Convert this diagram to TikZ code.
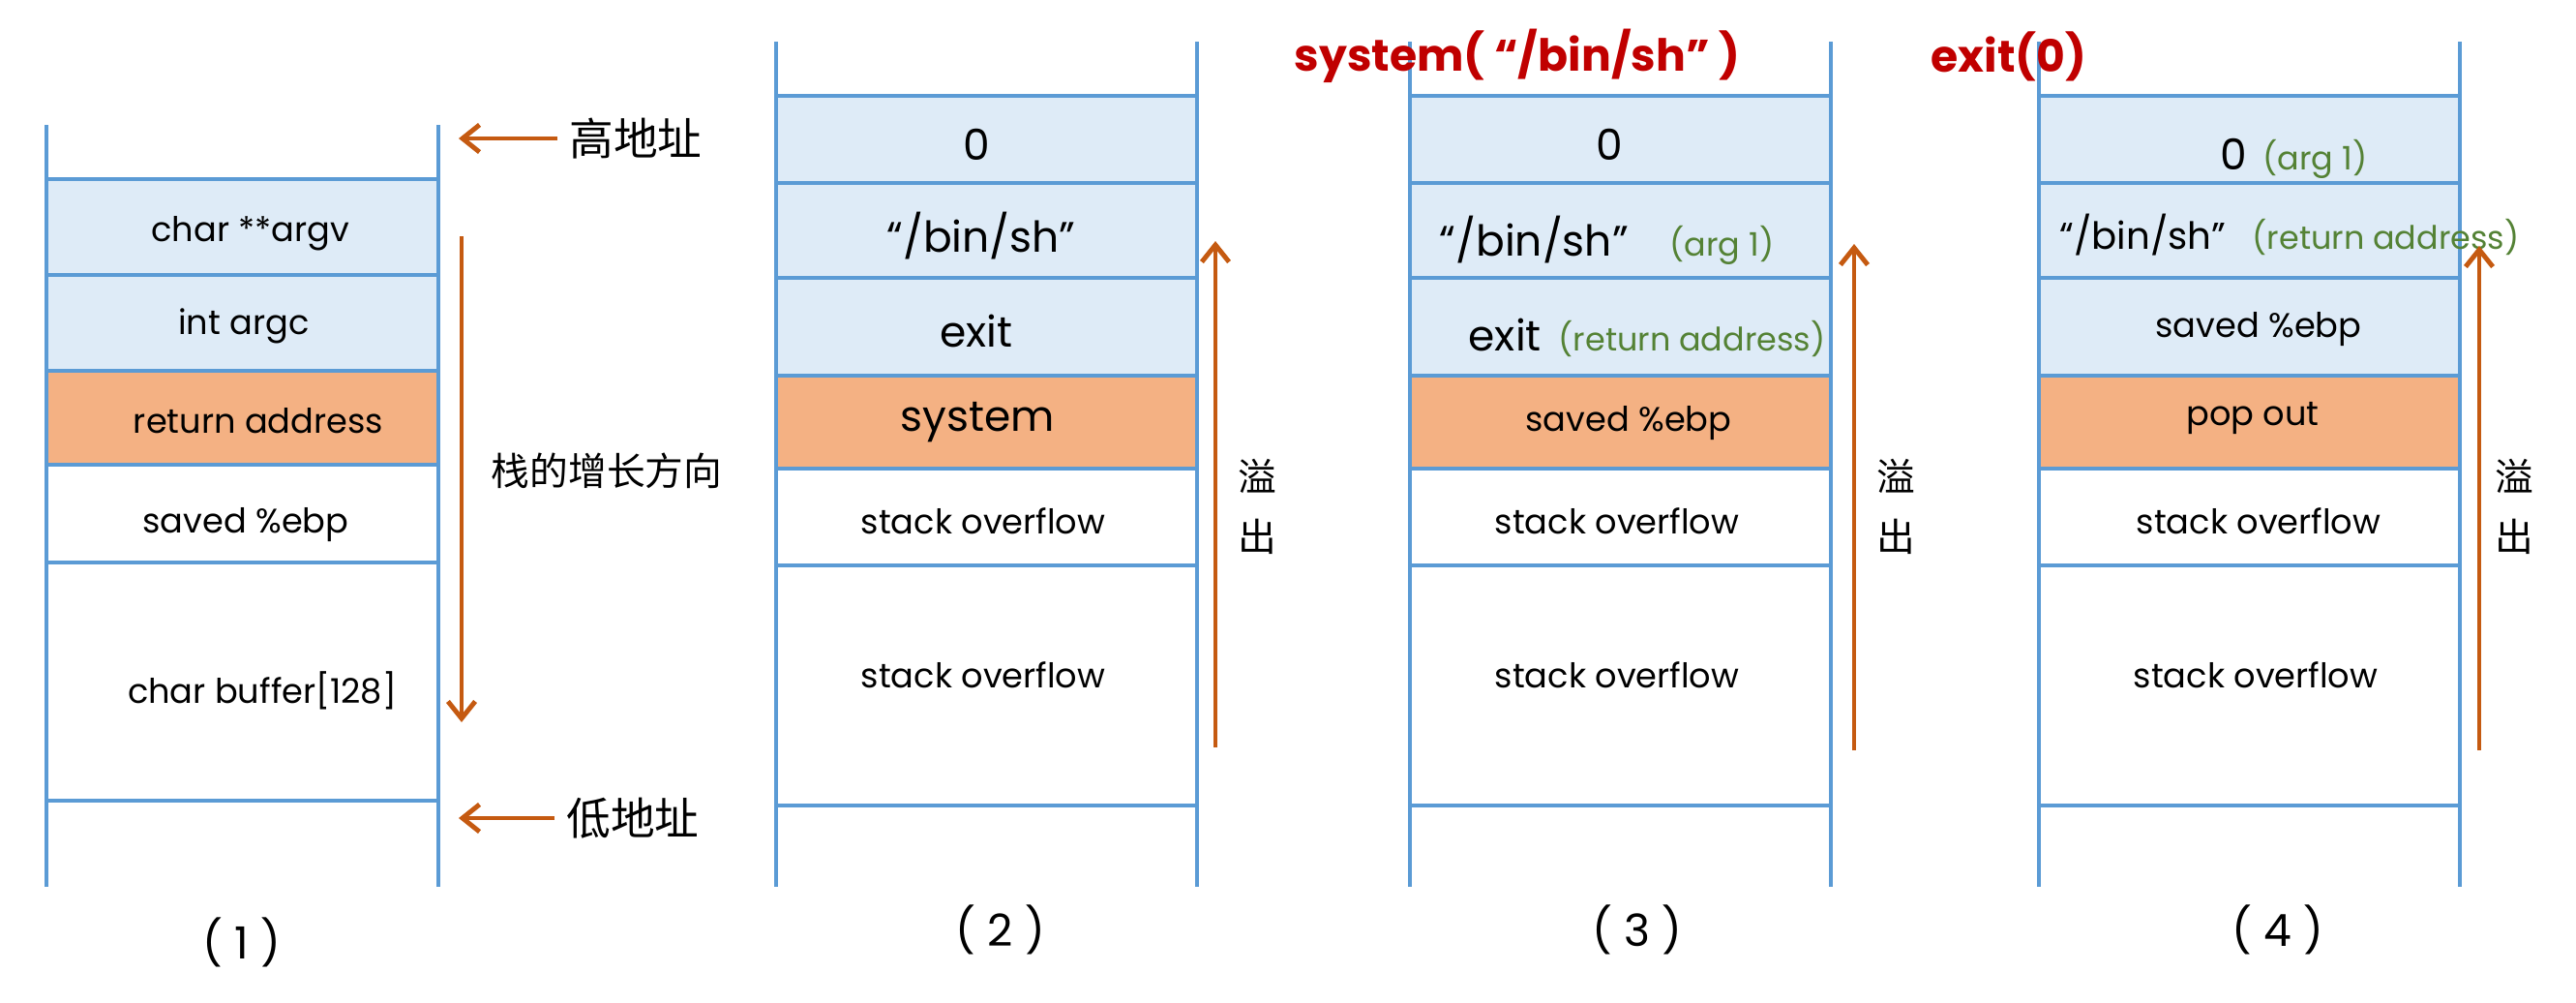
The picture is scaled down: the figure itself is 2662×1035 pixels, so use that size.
\documentclass[tikz,border=0pt]{standalone}
\usepackage{fontspec}
\setmainfont{Poppins}
\newfontfamily\cjk{Noto Sans CJK SC}
\usetikzlibrary{arrows.meta}
\definecolor{stackblue}{HTML}{5B9BD5}
\definecolor{cellblue}{HTML}{DEEBF7}
\definecolor{cellorange}{HTML}{F4B183}
\definecolor{arrowbrown}{HTML}{C55A11}
\definecolor{callred}{HTML}{C00000}
\definecolor{notegreen}{HTML}{548235}
\tikzset{
  stackline/.style={draw=stackblue,line width=1.2pt},
  growarrow/.style={draw=arrowbrown,line width=1.4pt,-{Straight Barb[length=5pt,width=8pt]}},
  cell/.style={font=\fontsize{10}{12}\selectfont,inner sep=0pt},
  bigcell/.style={font=\fontsize{12.5}{14}\selectfont,inner sep=0pt},
  note/.style={text=notegreen,font=\fontsize{9.5}{11}\selectfont,inner sep=0pt},
  cjklabel/.style={font=\cjk\fontsize{11.3}{17.6}\selectfont,align=center},
  addrlabel/.style={font=\cjk\fontsize{13}{15}\selectfont},
  call/.style={text=callred,font=\bfseries\fontsize{13}{16}\selectfont,inner sep=0pt},
  caption/.style={font=\fontsize{13}{15}\selectfont}
}
\begin{document}
\begin{tikzpicture}[x=0.01cm,y=-0.01cm]
\useasboundingbox (0,0) rectangle (2662,1035);
% stack (1)
\fill[cellblue] (48,185) rectangle (453,383);
\fill[cellorange] (48,383) rectangle (453,480);
\foreach \y in {185,284,383,480,581,827}
  \draw[stackline] (48,\y) -- (453,\y);
\draw[stackline] (48,129) -- (48,916);
\draw[stackline] (453,129) -- (453,916);
% stacks (2)-(4)
\foreach \xl/\xr in {802/1237,1457/1892,2107/2542}{
  \fill[cellblue] (\xl,99) rectangle (\xr,388);
  \fill[cellorange] (\xl,388) rectangle (\xr,484);
  \foreach \y in {99,189,287,388,484,584,832}
    \draw[stackline] (\xl,\y) -- (\xr,\y);
  \draw[stackline] (\xl,43) -- (\xl,916);
  \draw[stackline] (\xr,43) -- (\xr,916);
}

% (1)
\node[cell] (argv) at (259,241) {char **argv};
\node[cell] (argc) at (252,337) {int argc};
\node[cell] (ret1) at (267,435) {return address};
\node[cell] (ebp1) at (254,542) {saved \%ebp};
\node[cell] (buf) at (271,713) {char buffer[128]};
\node[addrlabel] (high) at (657,143) {高地址};
\node[addrlabel] (low) at (654,845) {低地址};
\node[cjklabel] (grow) at (627,486) {栈的增长方向};
\coordinate (highend) at (474,143);
\coordinate (lowend) at (474,845);
\coordinate (growtop) at (477,244);
\coordinate (growbot) at (477,746);
\draw[growarrow] (high) -- (highend);
\draw[growarrow] (low) -- (lowend);
\draw[growarrow] (growtop) -- (growbot);
\node[caption] (cap1) at (250,973) {( 1 )};

% (2)
\node[bigcell] (zero2) at (1009,149) {0};
\node[bigcell] (sh2) at (1014,244) {“/bin/sh”};
\node[bigcell] (exit2) at (1009,342) {exit};
\node[bigcell] (sys2) at (1010,436) {system};
\node[cell] (so2a) at (1016,538) {stack overflow};
\node[cell] (so2b) at (1016,697) {stack overflow};
\coordinate (up2bot) at (1256,772);
\coordinate (up2top) at (1256,249);
\draw[growarrow] (up2bot) -- (up2top);
\node[cjklabel] (over2) at (1299,523) {溢\\出};
\node[caption] (cap2) at (1034,960) {( 2 )};

% (3)
\node[call] (callsys) at (1568,58) {system( “/bin/sh” )};
\node[bigcell] (zero3) at (1663,149) {0};
\node[bigcell,anchor=base west] (sh3) at (1487,264) {“/bin/sh”};
\node[note,anchor=base west] (arg3) at (1725,264) {(arg 1)};
\node[bigcell,anchor=base west] (exit3) at (1517,362) {exit};
\node[note,anchor=base west] (ret3) at (1610,362) {(return address)};
\node[cell] (ebp3) at (1683,437) {saved \%ebp};
\node[cell] (so3a) at (1671,538) {stack overflow};
\node[cell] (so3b) at (1671,697) {stack overflow};
\coordinate (up3bot) at (1916,775);
\coordinate (up3top) at (1916,252);
\draw[growarrow] (up3bot) -- (up3top);
\node[cjklabel] (over3) at (1959,523) {溢\\出};
\node[caption] (cap3) at (1692,960) {( 3 )};

% (4)
\node[call] (callexit) at (2076,58) {exit(0)};
\node[bigcell,anchor=base west] (zero4) at (2294,175) {0};
\node[note,anchor=base west] (arg4) at (2338,175) {(arg 1)};
\node[cell,font=\fontsize{11}{13}\selectfont,anchor=base west] (sh4) at (2128,257) {“/bin/sh”};
\node[note,anchor=base west] (ret4) at (2327,257) {(return address)};
\node[cell] (ebp4) at (2334,340) {saved \%ebp};
\node[cell] (pop4) at (2328,432) {pop out};
\node[cell] (so4a) at (2334,538) {stack overflow};
\node[cell] (so4b) at (2331,697) {stack overflow};
\coordinate (up4bot) at (2562,775);
\coordinate (up4top) at (2562,254);
\draw[growarrow] (up4bot) -- (up4top);
\node[cjklabel] (over4) at (2598,523) {溢\\出};
\node[caption] (cap4) at (2354,960) {( 4 )};
\end{tikzpicture}
\end{document}
